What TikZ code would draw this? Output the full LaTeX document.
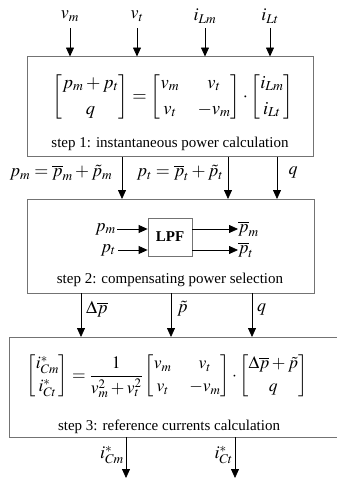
\documentclass[tikz,border=0pt]{standalone}
\usepackage{amsmath}
\usepackage{mathptmx}
\usepackage{fontspec}
\setmainfont{Liberation Serif}
\usetikzlibrary{arrows.meta}
\begin{document}
\begin{tikzpicture}[x=1pt,y=-1pt,
  blk/.style={draw=black!55,line width=0.8pt},
  arr/.style={-{Triangle[length=9pt,width=8pt]},line width=0.8pt},
  lbl/.style={font=\fontsize{18}{20}\selectfont,inner sep=0pt},
  captxt/.style={font=\fontsize{15}{17}\selectfont,inner sep=0pt},
  eqa/.style={font=\fontsize{18.5}{21}\selectfont,inner sep=0pt},
  eqb/.style={font=\fontsize{17.5}{20}\selectfont,inner sep=0pt}]
\useasboundingbox (0,0) rectangle (337,480);
% boxes
\draw[blk] (27,56.5) rectangle (313.5,156.5);
\draw[blk] (27,199) rectangle (314,293);
\draw[blk] (9.5,337) rectangle (340,437);
% top inputs
\node[lbl] (vm) at (70,16) {$v_m$};
\node[lbl] (vt) at (137,16) {$v_t$};
\node[lbl] (iLm) at (205,16) {$i_{Lm}$};
\node[lbl] (iLt) at (270,16) {$i_{Lt}$};
\coordinate (a1) at (70,56.5);
\coordinate (a2) at (137,56.5);
\coordinate (a3) at (205,56.5);
\coordinate (a4) at (270,56.5);
\draw[arr] (70,28) -- (a1);
\draw[arr] (137,28) -- (a2);
\draw[arr] (205,28) -- (a3);
\draw[arr] (270,28) -- (a4);
% equation 1
\node[eqa] (eq1) at (173,97) {$\begin{bmatrix} p_m+p_t\\[5pt] q\end{bmatrix}=\begin{bmatrix} v_m & \;\;v_t\\[5pt] v_t & \;\;-v_m\end{bmatrix}\cdot\begin{bmatrix} i_{Lm}\\[5pt] i_{Lt}\end{bmatrix}$};
\node[captxt] (s1) at (170,144) {step 1: instantaneous power calculation};
% between 1 and 2
\coordinate (b1s) at (122,156.5); \coordinate (b1e) at (122,199);
\coordinate (b2s) at (228,156.5); \coordinate (b2e) at (228,199);
\coordinate (b3s) at (277,156.5); \coordinate (b3e) at (277,199);
\draw[arr] (b1s) -- (b1e);
\draw[arr] (b2s) -- (b2e);
\draw[arr] (b3s) -- (b3e);
\node[lbl] (l1) at (61,173) {$p_m=\overline{p}_m+\tilde p_m$};
\node[lbl] (l2) at (180,173) {$p_t=\overline{p}_t+\tilde p_t$};
\node[lbl] (l3) at (293,172) {$q$};
% LPF
\node[draw=black!55,line width=0.8pt,minimum width=44pt,minimum height=38pt,inner sep=0pt,font=\fontsize{15}{17}\selectfont\bfseries] (lpf) at (170,237) {LPF};
\node[lbl,anchor=east] (pmi) at (116,229) {$p_m$};
\node[lbl,anchor=east] (pti) at (116,250) {$p_t$};
\node[lbl,anchor=west] (pmo) at (238,229) {$\overline{p}_m$};
\node[lbl,anchor=west] (pto) at (238,250) {$\overline{p}_t$};
\draw[arr] (pmi.east) ++(1,0) -- (lpf.west |- pmi.east);
\draw[arr] (pti.east) ++(2,0) -- (lpf.west |- pti.east);
\draw[arr] (lpf.east |- pmo.west) -- (pmo.west);
\draw[arr] (lpf.east |- pto.west) -- (pto.west);
\node[captxt] (s2) at (170,280) {step 2: compensating power selection};
% between 2 and 3
\coordinate (c1s) at (81,293); \coordinate (c1e) at (81,337);
\coordinate (c2s) at (171,293); \coordinate (c2e) at (171,337);
\coordinate (c3s) at (252,293); \coordinate (c3e) at (252,337);
\draw[arr] (c1s) -- (c1e);
\draw[arr] (c2s) -- (c2e);
\draw[arr] (c3s) -- (c3e);
\node[lbl,anchor=west] (d1) at (86,309) {$\Delta\overline{p}$};
\node[lbl,anchor=west] (d2) at (177,309) {$\tilde p$};
\node[lbl,anchor=west] (d3) at (257,309) {$q$};
% equation 3
\node[eqb] (eq3) at (167,376) {$\begin{bmatrix} i^*_{Cm}\\[3pt] i^*_{Ct}\end{bmatrix}=\dfrac{1}{v_m^2+v_t^2}\begin{bmatrix} v_m & \;\;v_t\\[3pt] v_t & \;\;-v_m\end{bmatrix}\cdot\begin{bmatrix} \Delta\overline{p}+\tilde p\\[3pt] q\end{bmatrix}$};
\node[captxt] (s3) at (169,427) {step 3: reference currents calculation};
% outputs
\coordinate (o1s) at (126,437); \coordinate (o1e) at (126,478);
\coordinate (o2s) at (235,437); \coordinate (o2e) at (235,478);
\draw[arr] (o1s) -- (o1e);
\draw[arr] (o2s) -- (o2e);
\node[lbl,anchor=east] (oc1) at (124,455) {$i^*_{Cm}$};
\node[lbl,anchor=east] (oc2) at (233,455) {$i^*_{Ct}$};
\end{tikzpicture}
\end{document}
